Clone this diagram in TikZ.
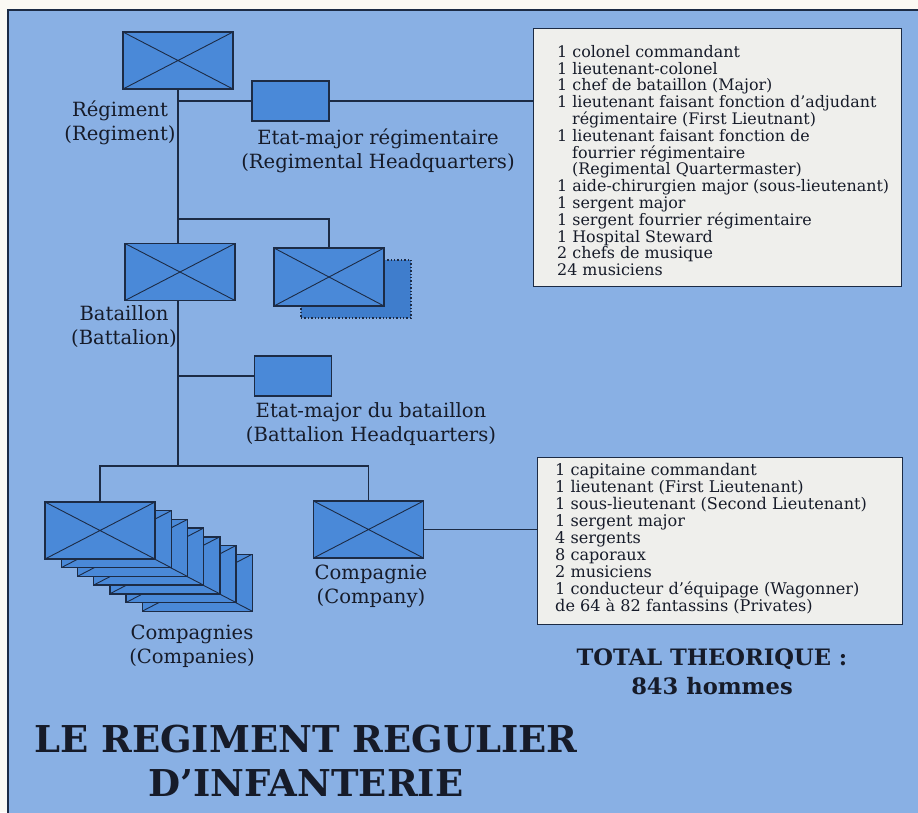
\documentclass[tikz,border=0pt]{standalone}
\usepackage{fontspec}
\setmainfont{DejaVu Serif}
\usepackage{tikz}
\usetikzlibrary{positioning,calc}
\pgfdeclarelayer{background}
\pgfdeclarelayer{links}
\pgfsetlayers{background,links,main}

\definecolor{margin}{HTML}{FBF9F4}
\definecolor{sky}{HTML}{89B0E4}
\definecolor{boxblue}{HTML}{4A89D8}
\definecolor{shadowblue}{HTML}{3F7DCC}
\definecolor{navy}{HTML}{1C2B45}
\definecolor{ink}{HTML}{161B29}
\definecolor{paper}{HTML}{EFEFEC}

\tikzset{
  unitbox/.style={draw=navy, line width=1.4pt, fill=boxblue, minimum width=110pt,
    minimum height=57pt, inner sep=0pt,
    path picture={\draw[navy, line width=0.9pt]
      (path picture bounding box.north west) -- (path picture bounding box.south east)
      (path picture bounding box.north east) -- (path picture bounding box.south west);}},
  hqbox/.style={draw=navy, line width=1.4pt, fill=boxblue, minimum width=77pt,
    minimum height=40pt, inner sep=0pt},
  lbl/.style={font=\fontsize{19.6}{24}\selectfont, text=ink, align=center, inner sep=0pt},
  listbox/.style={draw=navy, line width=1.4pt, fill=paper, inner sep=0pt, anchor=north west},
  listtxt/.style={font=\fontsize{15.9}{16.8}\selectfont, text=ink, align=left,
    inner sep=0pt, anchor=north west},
  link/.style={navy, line width=1.3pt},
  heading/.style={text=ink, align=center, inner sep=0pt}
}

\begin{document}
\begin{tikzpicture}[x=1pt, y=-1pt]
\useasboundingbox (0,0) rectangle (918,812);
\begin{pgfonlayer}{background}
  \fill[margin] (0,0) rectangle (918,812);
  \filldraw[fill=sky, draw=navy, line width=1.5pt] (8,10) rectangle (930,830);
\end{pgfonlayer}

% regiment
\node[unitbox] (reg) at (178,60.5) {};
\node[lbl] (reglbl) at (120,123) {Régiment\\(Regiment)};
\node[hqbox] (hqreg) at (290.5,101) {};
\node[lbl] (hqreglbl) at (378,151) {Etat-major régimentaire\\(Regimental Headquarters)};

% battalions
\node[unitbox] (bat) at (180,272) {};
\node[lbl] (batlbl) at (124,327) {Bataillon\\(Battalion)};
\node[draw=navy, dotted, line width=1.4pt, fill=shadowblue, minimum width=110pt,
  minimum height=58pt, inner sep=0pt] (batback) at (356,289) {};
\node[unitbox, minimum height=58pt] (bat2) at (329,277) {};
\node[hqbox] (hqbat) at (293,376) {};
\node[lbl] (hqbatlbl) at (371,424) {Etat-major du bataillon\\(Battalion Headquarters)};

% companies
\foreach \k in {6,5,...,1}
  \node[unitbox] (cmp\k) at (100+16.2*\k,530.5+8.7*\k) {};
\node[unitbox] (comps) at (100,530.5) {};
\node[lbl] (compslbl) at (192,646) {Compagnies\\(Companies)};
\node[unitbox] (comp) at (368.5,529.5) {};
\node[lbl] (complbl) at (371,586) {Compagnie\\(Company)};

% staff lists
\node[listbox, minimum width=368pt, minimum height=258pt] (regstaff) at (533,28) {};
\node[listtxt] (regstafftxt) at (557,45) {1 colonel commandant\\
1 lieutenant-colonel\\
1 chef de bataillon (Major)\\
1 lieutenant faisant fonction d’adjudant\\
\hspace*{15pt}régimentaire (First Lieutnant)\\
1 lieutenant faisant fonction de\\
\hspace*{15pt}fourrier régimentaire\\
\hspace*{15pt}(Regimental Quartermaster)\\
1 aide-chirurgien major (sous-lieutenant)\\
1 sergent major\\
1 sergent fourrier régimentaire\\
1 Hospital Steward\\
2 chefs de musique\\
24 musiciens};
\node[listbox, minimum width=365pt, minimum height=167pt] (coystaff) at (537,457) {};
\node[listtxt, font=\fontsize{16.1}{17}\selectfont] (coystafftxt) at (555,463) {1 capitaine commandant\\
1 lieutenant (First Lieutenant)\\
1 sous-lieutenant (Second Lieutenant)\\
1 sergent major\\
4 sergents\\
8 caporaux\\
2 musiciens\\
1 conducteur d’équipage (Wagonner)\\
de 64 à 82 fantassins (Privates)};

% totals and title
\node[heading, font=\fontsize{22.6}{29}\bfseries] (total) at (712,672) {TOTAL THEORIQUE :\\843 hommes};
\node[heading, font=\fontsize{37}{44}\bfseries] (title) at (306,761) {LE REGIMENT REGULIER\\D’INFANTERIE};

% connectors
\coordinate (trunk) at (178,466);
\coordinate (batfork) at (178,219);
\begin{pgfonlayer}{links}
  \draw[link] (reg.south) -- (trunk);
  \draw[link] (reg.south |- hqreg.west) -- (hqreg.west);
  \draw[link] (hqreg.east) -- (hqreg.east -| regstaff.west);
  \draw[link] (batfork) -| (bat2.north);
  \draw[link] (reg.south |- hqbat.west) -- (hqbat.west);
  \draw[link] (comps.north) |- (trunk) -| (comp.north);
  \draw[link] (comp.east) -- (comp.east -| coystaff.west);
\end{pgfonlayer}
\end{tikzpicture}
\end{document}
